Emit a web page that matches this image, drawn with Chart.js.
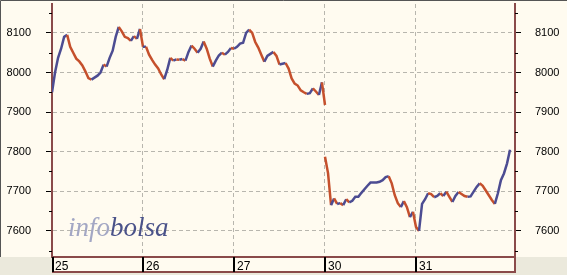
<!DOCTYPE html>
<html>
<head>
<meta charset="utf-8">
<script src="https://cdn.jsdelivr.net/npm/chart.js@4.4.1/dist/chart.umd.min.js"></script>
<style>
  body { margin: 0; background: #fffbf0; }
  #wrap { position: relative; width: 567px; height: 275px; }
  #logo { position: absolute; left: 68px; top: 214px; font: italic 27px "Liberation Serif", serif; line-height: 27px; white-space: nowrap; }
  #logo .i { color: #a3a7c4; }
  #logo .b { color: #4a5289; }
</style>
</head>
<body>
<div id="wrap">
  <canvas id="chart" width="567" height="275"></canvas>
  <div id="logo"><span class="i">info</span><span class="b">bolsa</span></div>
</div>
<script>
// dias de sesion (etiquetas del eje X)
const dayLabels = ['25', '26', '27', '30', '31'];
// cortes de linea antes de la sesion (fin de semana)
const breakBefore = [false, false, false, true, false];
// muestras por sesion (cada 1/30 de sesion)
const samplesPerDay = 30;

// precios, uno por muestra
const prices25 = [7950, 8000, 8037, 8060, 8090, 8095, 8065, 8050, 8035, 8028, 8018, 8003, 7986, 7982, 7987,
                  7992, 8000, 8020, 8015, 8037, 8055, 8090, 8115, 8104, 8090, 8087, 8080, 8092, 8085, 8110];
const prices26 = [8065, 8065, 8045, 8032, 8020, 8010, 7995, 7983, 8007, 8037, 8030, 8033, 8032, 8034, 8030,
                  8052, 8068, 8060, 8050, 8060, 8078, 8060, 8035, 8015, 8030, 8043, 8050, 8045, 8052, 8062];
const prices27 = [8060, 8065, 8073, 8075, 8100, 8108, 8100, 8077, 8063, 8045, 8027, 8042, 8047, 8052, 8042,
                  8020, 8022, 8024, 8010, 7985, 7972, 7967, 7955, 7950, 7946, 7948, 7960, 7952, 7943, 7975, 7918];
const prices30 = [7787, 7746, 7665, 7682, 7668, 7670, 7665, 7680, 7672, 7676, 7686, 7686, 7696, 7705, 7714,
                  7722, 7722, 7722, 7724, 7728, 7736, 7738, 7720, 7690, 7670, 7660, 7675, 7660, 7635, 7648];
const prices31 = [7610, 7600, 7668, 7680, 7695, 7693, 7685, 7688, 7695, 7688, 7699, 7686, 7673, 7688, 7698,
                  7693, 7688, 7686, 7687, 7699, 7711, 7720, 7714, 7702, 7690, 7678, 7668, 7695, 7728, 7745, 7770, 7805];

// rango de los ejes
const yMin = 7534;
const yMax = 8173;
const xMax = 5.088;

const sessions = [prices25, prices26, prices27, prices30, prices31];

// construir los puntos {x, y}
const points = [];
sessions.forEach((prices, d) => {
    if (breakBefore[d]) points.push({ x: d, y: null });
    prices.forEach((p, i) => points.push({ x: d + i / samplesPerDay, y: p }));
});

const cream = '#fffbf0';
const grayPanel = '#ebe9dc';
const brown = '#8a4a4a';
const gridGray = '#b8b6ae';
const upColor = '#4c4c92';
const downColor = '#c5502c';

// fondo, marco y marcas que Chart.js no dibuja asi
const framePlugin = {
    id: 'frame',
    beforeDraw(chart) {
        const ctx = chart.ctx;
        const a = chart.chartArea;
        ctx.save();
        ctx.fillStyle = cream;
        ctx.fillRect(0, 0, chart.width, chart.height);
        ctx.fillStyle = grayPanel;
        ctx.fillRect(0, a.bottom, a.left, chart.height - a.bottom);
        ctx.fillRect(a.right, a.bottom, chart.width - a.right, chart.height - a.bottom);
        ctx.fillRect(a.left, a.bottom + 15, a.right - a.left, chart.height - a.bottom - 15);
        ctx.restore();
    },
    afterDraw(chart) {
        const ctx = chart.ctx;
        const a = chart.chartArea;
        const xs = chart.scales.x;
        const ys = chart.scales.y;
        ctx.save();
        // caja del eje de fechas
        ctx.strokeStyle = brown;
        ctx.lineWidth = 2;
        ctx.beginPath();
        ctx.moveTo(a.left, a.bottom + 15);
        ctx.lineTo(a.right + 1, a.bottom + 15);
        ctx.moveTo(a.right, a.bottom);
        ctx.lineTo(a.right, a.bottom + 15);
        ctx.stroke();
        // marcas negras de cada sesion
        ctx.strokeStyle = '#000';
        ctx.lineWidth = 2;
        dayLabels.forEach((_, i) => {
            const px = Math.round(xs.getPixelForValue(i)) + (i === 0 ? 1 : 0);
            ctx.beginPath();
            ctx.moveTo(px, a.bottom);
            ctx.lineTo(px, a.bottom + 15);
            ctx.stroke();
        });
        // marcas menores cada 50 puntos
        ctx.lineWidth = 1;
        for (let v = Math.ceil(yMin / 50) * 50; v <= yMax; v += 50) {
            if (v % 100 === 0) continue;
            const py = Math.round(ys.getPixelForValue(v)) + 0.5;
            ctx.beginPath();
            ctx.moveTo(a.left - 3, py);
            ctx.lineTo(a.left, py);
            ctx.moveTo(a.right, py);
            ctx.lineTo(a.right + 3, py);
            ctx.stroke();
        }
        // borde exterior
        ctx.strokeStyle = '#555';
        ctx.beginPath();
        ctx.moveTo(0.5, a.bottom);
        ctx.lineTo(0.5, 0.5);
        ctx.lineTo(chart.width, 0.5);
        ctx.stroke();
        ctx.restore();
    }
};

const isMajor = v => v % 100 === 0;

const yAxis = (position, padding, onArea) => ({
    type: 'linear',
    position: position,
    min: yMin,
    max: yMax,
    afterFit: s => { s.width = 52; s.paddingTop = 0; s.paddingBottom = 0; },
    ticks: {
        stepSize: 50,
        padding: padding,
        color: '#000',
        font: { family: 'Liberation Sans', size: 11 },
        callback: v => isMajor(v) ? String(v) : ''
    },
    grid: {
        drawOnChartArea: onArea,
        tickLength: 6,
        color: c => (c.tick && isMajor(c.tick.value)) ? gridGray : 'transparent',
        tickColor: c => (c.tick && isMajor(c.tick.value)) ? '#000' : 'transparent'
    },
    border: { color: brown, width: 2, dash: [4, 3] }
});

new Chart(document.getElementById('chart'), {
    type: 'line',
    data: {
        datasets: [{
            data: points,
            borderWidth: 2.5,
            pointRadius: 0,
            tension: 0,
            spanGaps: false,
            borderColor: downColor,
            segment: {
                borderColor: c => c.p1.parsed.y >= c.p0.parsed.y ? upColor : downColor
            }
        }]
    },
    options: {
        responsive: false,
        animation: false,
        layout: { padding: { top: 4, left: 0, right: 0, bottom: 0 } },
        plugins: { legend: { display: false }, tooltip: { enabled: false } },
        scales: {
            x: {
                type: 'linear',
                min: 0,
                max: xMax,
                afterFit: s => { s.height = 18; s.paddingLeft = 0; s.paddingRight = 0; },
                afterBuildTicks: s => { s.ticks = dayLabels.map((_, i) => ({ value: i })); },
                ticks: {
                    align: 'start',
                    labelOffset: 3,
                    padding: 2,
                    autoSkip: false,
                    maxRotation: 0,
                    color: '#000',
                    font: { family: 'Liberation Sans', size: 12 },
                    callback: v => dayLabels[v]
                },
                grid: {
                    drawTicks: false,
                    color: c => (c.tick && c.tick.value === 0) ? 'transparent' : gridGray
                },
                border: { color: brown, width: 2, dash: [4, 3] }
            },
            y: yAxis('left', 15, true),
            y2: yAxis('right', 14, false)
        }
    },
    plugins: [framePlugin]
});
</script>
</body>
</html>
